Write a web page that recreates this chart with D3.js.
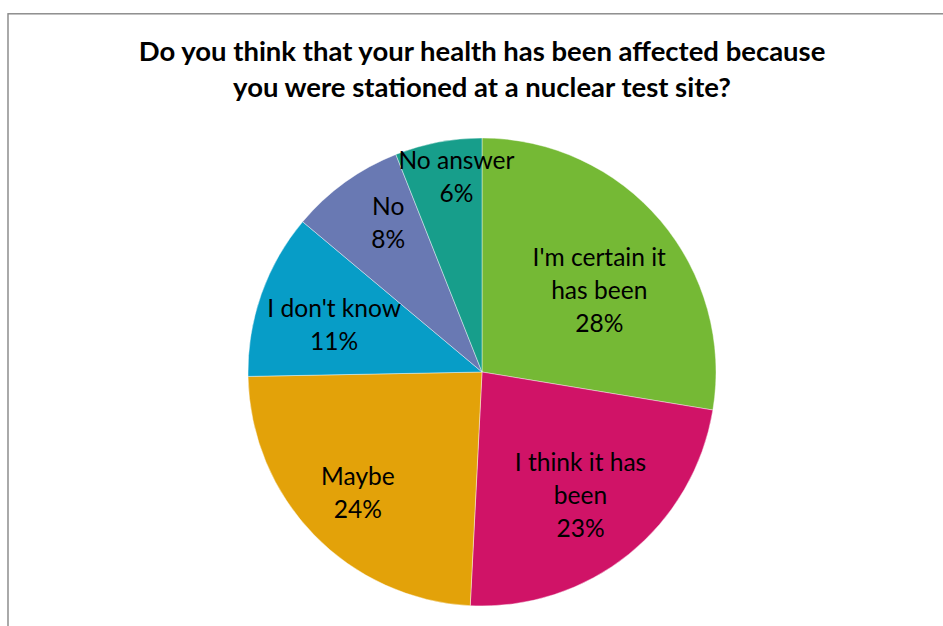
<!DOCTYPE html>
<html>
<head>
<meta charset="utf-8">
<script src="https://cdn.jsdelivr.net/npm/d3@7"></script>
<style>
  html, body { margin: 0; padding: 0; background: #ffffff; }
  svg { display: block; }
</style>
</head>
<body>
<script>
// ---- data ----
const categories = ["I'm certain it has been", "I think it has been", "Maybe", "I don't know", "No", "No answer"];
const values = [27.6, 23.2, 23.9, 11.4, 7.9, 6.0];
const percentLabels = ["28%", "23%", "24%", "11%", "8%", "6%"];
const labelLines = [["I'm certain it", "has been"], ["I think it has", "been"], ["Maybe"], ["I don't know"], ["No"], ["No answer"]];
const colors = ["#75B935", "#D01367", "#E3A209", "#079DC7", "#6979B3", "#179E8B"];
const titleLines = ["Do you think that your health has been affected because", "you were stationed at a nuclear test site?"];

// ---- layout ----
const W = 943, H = 626;
const cx = 482, cy = 372, R = 234;
const labelRadius = [142, 159, 174, 155, 175, 196];
const labelShiftDeg = [6, 0.6, -0.4, -2, 3.4, 3.3];
const lineH = 33;
const font = "Lato, 'Open Sans', 'Liberation Sans', sans-serif";

const svg = d3.select("body").append("svg").attr("width", W).attr("height", H);

// frame
svg.append("rect")
  .attr("x", 8).attr("y", 13.8).attr("width", 1200).attr("height", 1200)
  .attr("fill", "none").attr("stroke", "#868686").attr("stroke-width", 1.4);

// title
const title = svg.append("g");
const tl = title.selectAll("text").data(titleLines).join("text")
  .attr("x", cx).attr("y", (d, i) => 61 + i * 36)
  .attr("text-anchor", "middle")
  .attr("font-family", font).attr("font-weight", "bold")
  .attr("font-size", 100).attr("fill", "#000")
  .text(d => d);
const w0 = tl.nodes()[0].getComputedTextLength();
tl.attr("font-size", 100 * 687 / w0);

// pie
const pie = d3.pie().sort(null).value(d => d).startAngle(0).endAngle(2 * Math.PI);
const arcs = pie(values);
const arc = d3.arc().innerRadius(0).outerRadius(R);
const g = svg.append("g").attr("transform", `translate(${cx},${cy})`);
g.selectAll("path").data(arcs).join("path")
  .attr("d", arc)
  .attr("fill", (d, i) => colors[i])
  .attr("stroke", "#ffffff").attr("stroke-width", 0.6).attr("stroke-opacity", 0.7);

// labels
const lg = g.append("g");
arcs.forEach((a, i) => {
  const ang = (a.startAngle + a.endAngle) / 2 + labelShiftDeg[i] * Math.PI / 180;
  const r = labelRadius[i];
  const x = r * Math.sin(ang), y = -r * Math.cos(ang);
  const lines = labelLines[i].concat([percentLabels[i]]);
  const n = lines.length;
  const t = lg.append("text")
    .attr("text-anchor", "middle")
    .attr("font-family", font)
    .attr("fill", "#000");
  lines.forEach((ln, j) => {
    t.append("tspan").attr("x", x)
      .attr("y", y + (j - (n - 1) / 2) * lineH + 7.5)
      .text(ln);
  });
});
// fit label font size to reference width of "I'm certain it"
const probe = lg.append("text").attr("font-family", font).attr("font-size", 100).text("I'm certain it");
const pw = probe.node().getComputedTextLength();
probe.remove();
lg.selectAll("text").attr("font-size", 100 * 133.4 / pw);
</script>
</body>
</html>
